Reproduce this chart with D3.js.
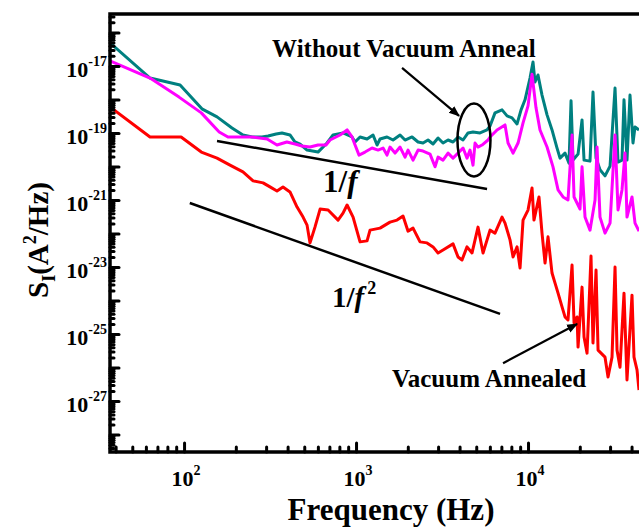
<!DOCTYPE html>
<html>
<head>
<meta charset="utf-8">
<script src="https://cdn.jsdelivr.net/npm/d3@7"></script>
<style>
  html, body { margin: 0; padding: 0; background: #fff; overflow: hidden; }
  svg { display: block; }
  text { font-family: "Liberation Serif", "Times New Roman", serif; font-weight: bold; fill: #000; }
</style>
</head>
<body>
<svg id="chart" width="639" height="527"></svg>
<script>
// Current noise spectra: [frequency (Hz), log10 S_I (A^2/Hz)]
const withoutAnnealA = [
  [37.1,-16.31],[63.4,-17.36],[94.8,-17.57],[127,-18.28],[155.5,-18.52],[190,-18.85],[220,-19.06],
  [249,-19.12],[284,-19.12],[308,-19.09],[343,-19.03],[371,-19.00],[413,-19.06],[442,-19.27],
  [473,-19.33],[519,-19.51],[601,-19.57],[678,-19.30],[735,-19.06],[840,-19.00],[948,-19.12],
  [987,-19.27],[1055,-19.12],[1159,-19.18],[1256,-19.06],[1325,-19.36],[1379,-19.18],[1514,-19.12],
  [1641,-19.21],[1803,-19.06],[1927,-19.21],[2117,-19.12],[2294,-19.27],[2452,-19.30],[2622,-19.21],
  [2804,-19.33],[2998,-19.15],[3205,-19.30],[3427,-19.21],[3664,-19.27],[3918,-19.12],[4190,-19.21],
  [4479,-19.00],[4788,-18.97],[5260,-19.00],[5777,-18.91],[6014,-18.79],[6428,-18.40],[7062,-18.31],
  [7553,-18.49],[8075,-18.55],[8635,-18.73],[9110,-18.31],[9605,-18.01],[10270,-17.36],[10690,-16.88],
  [10980,-17.48],[11430,-17.27],[12060,-17.87],[12900,-18.46],[13790,-18.91],[14750,-19.45],
  [15350,-19.75],[16410,-19.60],[17310,-19.90],[17790,-18.04],[18270,-19.81],[19540,-19.63],
  [20610,-18.61],[21170,-19.81],[22930,-19.84],[23870,-17.78],[24860,-19.75],[26220,-20.10],
  [28040,-20.28],[29990,-19.99],[32060,-17.66],[33370,-19.87],[35200,-19.81],[36150,-18.01],
  [37630,-19.81],[39170,-17.87],[40780,-19.30],[41890,-18.82],[44190,-18.91]
];
const withoutAnnealB = [
  [37.1,-16.85],[63.4,-17.36],[93.5,-17.93],[126,-18.40],[160,-18.97],[180,-19.12],[206,-19.12],
  [249,-19.12],[304,-19.18],[347,-19.36],[396,-19.27],[442,-19.33],[485,-19.39],[540,-19.42],
  [601,-19.36],[669,-19.36],[706,-19.21],[807,-19.06],[887,-18.91],[948,-19.12],[987,-19.36],
  [1041,-19.66],[1128,-19.57],[1239,-19.45],[1343,-19.51],[1436,-19.45],[1514,-19.66],[1576,-19.42],
  [1686,-19.60],[1803,-19.42],[1927,-19.72],[2006,-19.51],[2145,-19.81],[2294,-19.51],[2452,-19.54],
  [2693,-19.63],[2880,-20.01],[2998,-19.72],[3205,-19.81],[3427,-19.60],[3664,-19.75],[3918,-19.60],
  [4190,-19.45],[4419,-19.75],[4601,-19.51],[4788,-19.96],[4919,-19.30],[5120,-19.42],[5403,-19.36],
  [5855,-19.21],[6014,-19.12],[6604,-18.91],[7350,-18.76],[7653,-19.30],[8184,-19.60],[8750,-19.30],
  [9356,-18.70],[10000,-18.19],[10550,-17.25],[11130,-18.25],[11740,-18.91],[12900,-19.42],
  [13970,-20.01],[14950,-20.70],[15980,-20.91],[17080,-21.00],[18030,-19.06],[18520,-20.91],
  [20060,-21.27],[20610,-20.01],[21450,-21.51],[22930,-21.90],[24530,-21.00],[25200,-19.42],
  [26220,-21.51],[28040,-21.99],[29990,-21.69],[32060,-19.06],[33370,-21.30],[35200,-20.70],
  [36640,-19.60],[37630,-21.51],[40240,-20.91],[41890,-21.69],[44190,-21.93]
];
const vacuumAnnealed = [
  [37.1,-18.22],[63.4,-19.12],[96.1,-19.12],[126,-19.57],[155.5,-19.75],[185,-19.96],[220,-20.16],
  [252,-20.43],[288,-20.49],[316,-20.61],[347,-20.73],[376,-20.61],[413,-20.76],[454,-21.21],
  [492,-21.51],[519,-21.75],[540,-22.28],[577,-21.81],[618,-21.27],[688,-21.30],[786,-21.60],
  [840,-21.39],[887,-21.15],[961,-21.51],[1055,-22.25],[1159,-22.22],[1206,-21.90],[1379,-21.84],
  [1474,-21.75],[1576,-21.66],[1731,-21.60],[1876,-21.48],[2006,-21.93],[2145,-21.84],[2356,-22.25],
  [2587,-22.28],[2804,-22.40],[2998,-22.58],[3205,-22.49],[3664,-22.31],[3918,-22.70],[4133,-22.79],
  [4419,-22.40],[4726,-22.58],[5120,-21.81],[5476,-22.58],[6014,-21.90],[6428,-21.99],[7062,-21.51],
  [7350,-21.69],[7858,-22.19],[8184,-22.70],[8635,-22.40],[8988,-23.03],[9356,-21.60],[10000,-21.30],
  [10550,-20.64],[10830,-21.60],[11580,-20.91],[12060,-21.99],[12560,-22.88],[13070,-22.10],
  [13790,-23.18],[14360,-23.48],[14950,-23.78],[15770,-24.19],[16410,-24.49],[17080,-24.58],
  [18030,-22.94],[18520,-24.67],[19280,-24.49],[19540,-25.39],[20610,-23.60],[21170,-25.09],
  [22040,-25.57],[23240,-22.67],[23870,-25.27],[24860,-23.09],[25540,-25.48],[28040,-25.69],
  [29190,-26.28],[30790,-25.69],[32060,-23.00],[32930,-25.48],[34270,-25.99],[36150,-23.78],
  [37630,-26.37],[40240,-23.84],[41330,-25.69],[43030,-26.07],[44190,-26.67]
];

// Power-law guide lines: endpoints [Hz, log10 S]
const guideOneOverF = [[155.5,-19.24],[5777,-20.67]];
const guideOneOverF2 = [[108,-21.09],[6876,-24.40]];

// Axis tick labels
const xLabelExps = [2, 3, 4];
const yLabelExps = [-17, -19, -21, -23, -25, -27];

const svg = d3.select("#chart");
const plotLeft = 110, plotRight = 700, plotTop = 14, plotBottom = 452;

const x = d3.scaleLog().domain([37.1, 1e5]).range([plotLeft, plotRight]);
const y = d3.scaleLog().domain([Math.pow(10, -28.52), Math.pow(10, -15.45)]).range([plotBottom, plotTop]);
const P = (d) => [x(d[0]), y(Math.pow(10, d[1]))];

const defs = svg.append("defs");
defs.append("clipPath").attr("id", "plot-clip")
  .append("rect").attr("x", plotLeft).attr("y", plotTop)
  .attr("width", plotRight - plotLeft).attr("height", plotBottom - plotTop);

defs.append("marker")
  .attr("id", "arrowhead").attr("viewBox", "0 0 10 10")
  .attr("refX", 9).attr("refY", 5)
  .attr("markerWidth", 5).attr("markerHeight", 5)
  .attr("markerUnits", "strokeWidth")
  .attr("orient", "auto")
  .append("path").attr("d", "M0,1 L10,5 L0,9 Z").attr("fill", "#000");

// Spectra
const line = d3.line().x(d => P(d)[0]).y(d => P(d)[1]);
const plot = svg.append("g").attr("clip-path", "url(#plot-clip)");
[[withoutAnnealA, "#008080"], [withoutAnnealB, "#ff00ff"], [vacuumAnnealed, "#ff0000"]].forEach(([data, color]) => {
  plot.append("path").datum(data)
    .attr("d", line)
    .attr("fill", "none")
    .attr("stroke", color)
    .attr("stroke-width", 3)
    .attr("stroke-linejoin", "round");
});

// Guide lines
[guideOneOverF, guideOneOverF2].forEach(g => {
  svg.append("line")
    .attr("x1", P(g[0])[0]).attr("y1", P(g[0])[1])
    .attr("x2", P(g[1])[0]).attr("y2", P(g[1])[1])
    .attr("stroke", "#000").attr("stroke-width", 2.5);
});

// Axes
const decades = d3.range(-29, -15);
const yMajor = decades.map(e => Math.pow(10, e)).filter(v => v >= y.domain()[0] && v <= y.domain()[1]);
const yMinor = [];
decades.forEach(e => { for (let k = 2; k <= 9; k++) { const v = k * Math.pow(10, e); if (v > y.domain()[0] && v < y.domain()[1]) yMinor.push(v); } });
const xMajor = [100, 1000, 10000];
const xMinor = [];
[10, 100, 1000, 10000].forEach(b => { for (let k = 2; k <= 9; k++) { const v = k * b; if (v > x.domain()[0] && v < x.domain()[1]) xMinor.push(v); } });

const axisStyle = g => {
  g.selectAll("line").attr("stroke", "#000").attr("stroke-width", 3).attr("stroke-linecap", "round");
  g.select(".domain").remove();
  g.selectAll("text").remove();
};
svg.append("g").attr("transform", `translate(${plotLeft},0)`)
  .call(d3.axisLeft(y).tickValues(yMinor).tickSize(-4).tickFormat("")).call(axisStyle);
svg.append("g").attr("transform", `translate(${plotLeft},0)`)
  .call(d3.axisLeft(y).tickValues(yMajor).tickSize(-9).tickFormat("")).call(axisStyle);
svg.append("g").attr("transform", `translate(0,${plotBottom})`)
  .call(d3.axisBottom(x).tickValues(xMinor).tickSize(-5).tickFormat("")).call(axisStyle);
svg.append("g").attr("transform", `translate(0,${plotBottom})`)
  .call(d3.axisBottom(x).tickValues(xMajor).tickSize(-9).tickFormat("")).call(axisStyle);

// Spines (left, bottom, top)
svg.append("path")
  .attr("d", `M${plotRight},${plotTop} L${plotLeft},${plotTop} L${plotLeft},${plotBottom} L${plotRight},${plotBottom}`)
  .attr("fill", "none").attr("stroke", "#000").attr("stroke-width", 3.5);

// Tick labels
yLabelExps.forEach(e => {
  const t = svg.append("text")
    .attr("x", plotLeft - 3).attr("y", y(Math.pow(10, e)) + 11)
    .attr("text-anchor", "end").attr("font-size", 22);
  t.append("tspan").text("10");
  t.append("tspan").attr("font-size", 14).attr("dy", -11).text(String(e));
});
xLabelExps.forEach(e => {
  const t = svg.append("text")
    .attr("x", x(Math.pow(10, e)) + 2).attr("y", 486)
    .attr("text-anchor", "middle").attr("font-size", 22);
  t.append("tspan").text("10");
  t.append("tspan").attr("font-size", 14).attr("dy", -11).text(String(e));
});

// Axis titles
svg.append("text")
  .attr("x", 391).attr("y", 520)
  .attr("text-anchor", "middle").attr("font-size", 31)
  .text("Frequency (Hz)");

const yt = svg.append("text")
  .attr("transform", "translate(48,240) rotate(-90)")
  .attr("text-anchor", "middle").attr("font-size", 29);
yt.append("tspan").text("S");
yt.append("tspan").attr("font-size", 18).attr("dy", 7).text("I");
yt.append("tspan").attr("dy", -7).text("(A");
yt.append("tspan").attr("font-size", 18).attr("dy", -12).text("2");
yt.append("tspan").attr("dy", 12).text("/Hz)");

// Annotations
const noteWithout = [325, -16.73];
const noteAnnealed = [1619, -26.58];
const arrowWithout = [[1852, -17.06], [3971, -18.49]];
const arrowAnnealed = [[7157, -25.87], [19280, -24.70]];
const ellipseCenter = [4850, -19.21];
const labelOneOverF = [643, -20.76];
const labelOneOverF2 = [725, -24.19];

svg.append("text").attr("x", P(noteWithout)[0]).attr("y", P(noteWithout)[1])
  .attr("font-size", 25).text("Without Vacuum Anneal");
svg.append("text").attr("x", P(noteAnnealed)[0]).attr("y", P(noteAnnealed)[1])
  .attr("font-size", 25).text("Vacuum Annealed");

[arrowWithout, arrowAnnealed].forEach(a => {
  svg.append("line")
    .attr("x1", P(a[0])[0]).attr("y1", P(a[0])[1])
    .attr("x2", P(a[1])[0]).attr("y2", P(a[1])[1])
    .attr("stroke", "#000").attr("stroke-width", 2.2)
    .attr("marker-end", "url(#arrowhead)");
});

svg.append("ellipse")
  .attr("cx", P(ellipseCenter)[0]).attr("cy", P(ellipseCenter)[1])
  .attr("rx", 16.5).attr("ry", 36.5)
  .attr("fill", "none").attr("stroke", "#000").attr("stroke-width", 2.5);

const f1 = svg.append("text").attr("x", P(labelOneOverF)[0]).attr("y", P(labelOneOverF)[1]).attr("font-size", 31);
f1.append("tspan").text("1/");
f1.append("tspan").attr("font-style", "italic").text("f");

const f2 = svg.append("text").attr("x", P(labelOneOverF2)[0]).attr("y", P(labelOneOverF2)[1]).attr("font-size", 29);
f2.append("tspan").text("1/");
f2.append("tspan").attr("font-style", "italic").text("f");
f2.append("tspan").attr("font-size", 18).attr("dy", -13).attr("dx", 3).text("2");
</script>
</body>
</html>
